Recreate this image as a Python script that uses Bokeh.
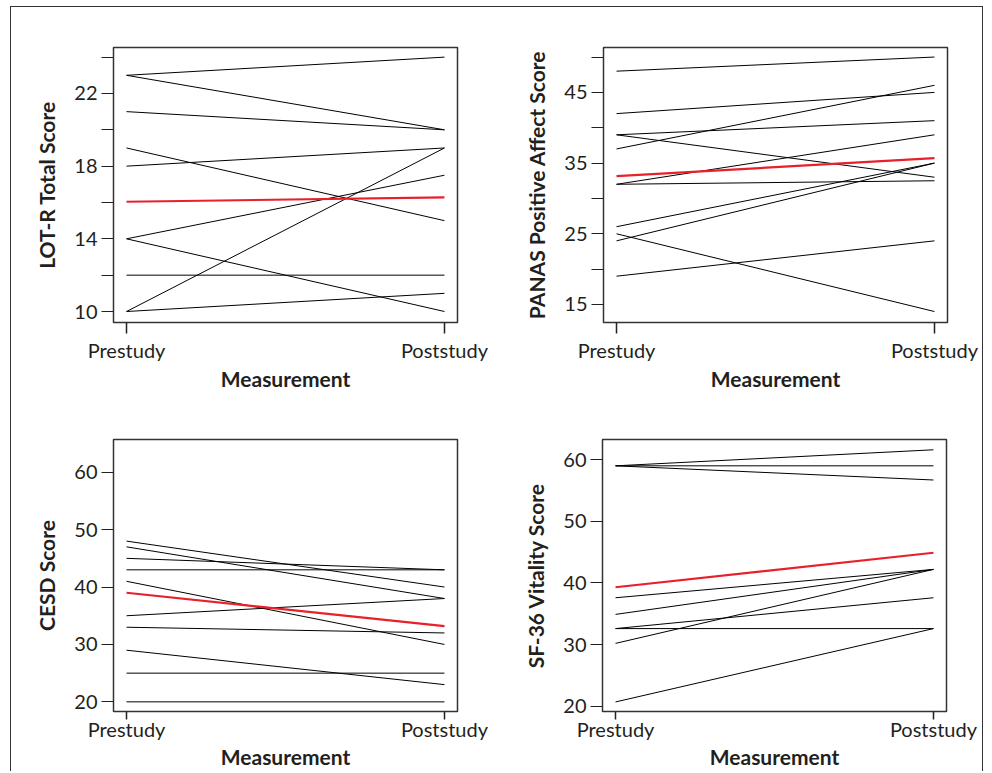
from bokeh.plotting import figure
from bokeh.layouts import column, row
from bokeh.models import Range1d, FixedTicker, ColumnDataSource
from bokeh.embed import file_html
from bokeh.resources import INLINE

# ---------------- data ----------------
x_labels = ["Prestudy", "Poststudy"]

lot_pre = [23, 23, 21, 19, 18, 14, 14, 12, 10, 10]
lot_post = [24, 20, 20, 15, 19, 17.5, 10, 12, 19, 11]
lot_mean = [16.04, 16.28]
lot_ticks = [10, 14, 18, 22]
lot_minor = [12, 16, 20, 24]

panas_pre = [48, 42, 39, 39, 37, 32, 32, 26, 24, 25, 19]
panas_post = [50, 45, 41, 33, 46, 39, 32.5, 35, 35, 14, 24]
panas_mean = [33.15, 35.7]
panas_ticks = [15, 25, 35, 45]
panas_minor = [20, 30, 40, 50]

cesd_pre = [48, 47, 45, 43, 41, 35, 33, 29, 25, 20]
cesd_post = [40, 38, 43, 43, 30, 38, 32, 23, 25, 20]
cesd_mean = [39.0, 33.2]
cesd_ticks = [20, 30, 40, 50, 60]

sf_pre = [59, 59, 59, 37.6, 34.9, 32.6, 32.6, 30.2, 20.7]
sf_post = [61.6, 59, 56.7, 42.2, 42.2, 37.6, 32.6, 42.2, 32.6]
sf_mean = [39.3, 44.9]
sf_ticks = [20, 30, 40, 50, 60]

TXT = "#231f20"


def make_panel(pre, post, mean, ylabel, yr, ticks, minor,
               bl, br, bt, bb, fh, xtick_out, xstand, lstand):
    p = figure(frame_width=344, frame_height=fh,
               output_backend="svg", toolbar_location=None,
               x_range=Range1d(-0.041, 1.041), y_range=Range1d(*yr),
               min_border_left=bl, min_border_right=br,
               min_border_top=bt, min_border_bottom=bb)
    p.xgrid.visible = False
    p.ygrid.visible = False
    p.outline_line_color = "#333333"
    p.outline_line_width = 1.5
    p.background_fill_color = "white"
    p.border_fill_color = "white"

    src = ColumnDataSource(dict(
        xs=[[0, 1] for _ in pre],
        ys=[[a, b] for a, b in zip(pre, post)],
    ))
    p.multi_line("xs", "ys", source=src, line_color="black", line_width=1)
    p.line([0, 1], mean, line_color="#e8202a", line_width=2.2)

    xa = p.xaxis[0]
    xa.ticker = FixedTicker(ticks=[0, 1])
    xa.major_label_overrides = {0: x_labels[0], 1: x_labels[1]}
    xa.major_tick_out = xtick_out
    xa.major_tick_in = 0
    xa.minor_tick_out = 0
    xa.axis_line_color = None
    xa.major_tick_line_color = "#222222"
    xa.major_tick_line_width = 1.5
    xa.major_label_standoff = xstand
    xa.axis_label = "Measurement"
    xa.axis_label_standoff = lstand

    ya = p.yaxis[0]
    ya.ticker = FixedTicker(ticks=ticks, minor_ticks=minor)
    ya.major_tick_out = 12
    ya.major_tick_in = 0
    ya.minor_tick_out = 12
    ya.minor_tick_in = 0
    ya.axis_line_color = None
    ya.major_tick_line_color = "#222222"
    ya.minor_tick_line_color = "#222222"
    ya.major_tick_line_width = 1.2
    ya.minor_tick_line_width = 1.2
    ya.major_label_standoff = 4
    ya.axis_label = ylabel
    ya.axis_label_standoff = 12

    for ax in (xa, ya):
        ax.major_label_text_font = "Lato"
        ax.major_label_text_font_size = "20px"
        ax.major_label_text_color = TXT
        ax.axis_label_text_font = "Lato"
        ax.axis_label_text_font_style = "bold"
        ax.axis_label_text_font_size = "21px"
        ax.axis_label_text_color = TXT
    return p


p1 = make_panel(lot_pre, lot_post, lot_mean, "LOT-R Total Score",
                (9.395, 24.53), lot_ticks, lot_minor,
                102, 42, 40, 66, 275, 11, 4, 1)
p2 = make_panel(panas_pre, panas_post, panas_mean, "PANAS Positive Affect Score",
                (12.45, 51.35), panas_ticks, panas_minor,
                104, 35, 40, 66, 275, 11, 4, 1)
p3 = make_panel(cesd_pre, cesd_post, cesd_mean, "CESD Score",
                (18.32, 65.7), cesd_ticks, [],
                102, 42, 46, 55, 272, 8, -3, 0)
p4 = make_panel(sf_pre, sf_post, sf_mean, "SF-36 Vitality Score",
                (19.15, 63.27), sf_ticks, [],
                103, 36, 46, 55, 272, 8, -3, 0)

layout = column(row(p1, p2), row(p3, p4),
                styles={"border-top": "1px solid #333333",
                        "border-left": "1px solid #333333",
                        "border-right": "1px solid #333333",
                        "margin-top": "6px",
                        "margin-left": "10px"})

open("out.html", "w").write(file_html(layout, INLINE))
